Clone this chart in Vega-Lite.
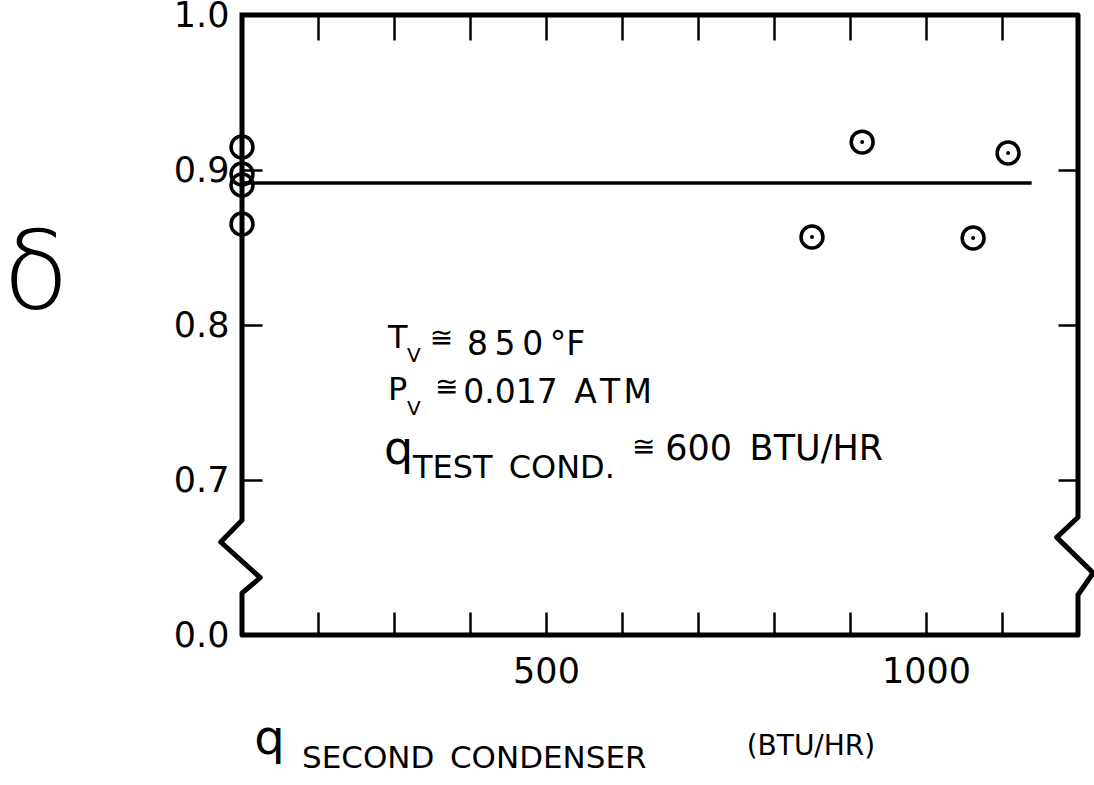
{
  "$schema": "https://vega.github.io/schema/vega-lite/v6.json",
  "width": 836,
  "height": 620,
  "autosize": {"type": "none"},
  "padding": {"left": 242, "top": 15, "right": 16, "bottom": 150},
  "background": "white",
  "config": {
    "view": {"stroke": null},
    "font": "DejaVu Sans",
    "axis": {
      "domain": false,
      "grid": false,
      "tickColor": "black",
      "tickWidth": 2.5,
      "labelColor": "black",
      "labelFont": "DejaVu Sans",
      "labelFontSize": 35,
      "labelFlush": false,
      "labelOverlap": false,
      "labelBound": false,
      "title": null
    }
  },
  "datasets": {
    "frame": [
      {"i": 0, "q": 100, "eff": 1.0},
      {"i": 1, "q": 100, "eff": 0.674},
      {"i": 2, "q": 72, "eff": 0.66},
      {"i": 3, "q": 124, "eff": 0.637},
      {"i": 4, "q": 100, "eff": 0.627},
      {"i": 5, "q": 100, "eff": 0.6},
      {"i": 6, "q": 1200, "eff": 0.6},
      {"i": 7, "q": 1200, "eff": 0.626},
      {"i": 8, "q": 1220, "eff": 0.64},
      {"i": 9, "q": 1172, "eff": 0.663},
      {"i": 10, "q": 1200, "eff": 0.676},
      {"i": 11, "q": 1200, "eff": 1.0},
      {"i": 12, "q": 100, "eff": 1.0}
    ],
    "fit": [
      {"q": 100, "eff": 0.8916},
      {"q": 1139, "eff": 0.8916}
    ],
    "points": [
      {"q": 100, "eff": 0.9148},
      {"q": 100, "eff": 0.8974},
      {"q": 100, "eff": 0.8903},
      {"q": 100, "eff": 0.8652},
      {"q": 850, "eff": 0.8568},
      {"q": 916, "eff": 0.918},
      {"q": 1062, "eff": 0.8561},
      {"q": 1108, "eff": 0.911}
    ]
  },
  "resolve": {"axis": {"x": "independent", "y": "independent"}},
  "layer": [
    {
      "data": {"name": "frame"},
      "mark": {"type": "line", "stroke": "black", "strokeWidth": 5, "strokeJoin": "round", "strokeCap": "square"},
      "encoding": {
        "x": {"field": "q", "type": "quantitative",
          "scale": {"domain": [100, 1200], "nice": false, "zero": false},
          "axis": {"orient": "bottom", "values": [200, 300, 400, 500, 600, 700, 800, 900, 1000, 1100], "format": "d", "tickSize": -23, "labelPadding": 42,
            "labelExpr": "datum.value == 500 || datum.value == 1000 ? datum.label : ''"}},
        "y": {"field": "eff", "type": "quantitative",
          "scale": {"domain": [0.6, 1.0], "nice": false, "zero": false},
          "axis": {"orient": "left", "values": [0.6, 0.7, 0.8, 0.9, 1.0], "tickSize": -20, "labelPadding": 33,
            "labelExpr": "datum.value < 0.65 ? '0.0' : format(datum.value, '.1f')"}},
        "order": {"field": "i", "type": "quantitative"}
      }
    },
    {
      "data": {"name": "fit"},
      "mark": {"type": "line", "stroke": "black", "strokeWidth": 3.5},
      "encoding": {
        "x": {"field": "q", "type": "quantitative", "axis": null},
        "y": {"field": "eff", "type": "quantitative", "axis": null}
      }
    },
    {
      "data": {"name": "points"},
      "mark": {"type": "point", "shape": "circle", "filled": false, "size": 480, "strokeWidth": 3.5, "color": "black", "opacity": 1},
      "encoding": {
        "x": {"field": "q", "type": "quantitative",
          "axis": {"orient": "top", "values": [200, 300, 400, 500, 600, 700, 800, 900, 1000, 1100], "tickSize": -25, "labels": false}},
        "y": {"field": "eff", "type": "quantitative",
          "axis": {"orient": "right", "values": [0.7, 0.8, 0.9], "tickSize": -20, "labels": false}}
      }
    },
    {
      "data": {"name": "points"},
      "mark": {"type": "point", "shape": "circle", "filled": true, "size": 16, "color": "black", "opacity": 1},
      "encoding": {
        "x": {"field": "q", "type": "quantitative", "axis": null},
        "y": {"field": "eff", "type": "quantitative", "axis": null}
      }
    },
    {
      "data": {"values": [{}]},
      "mark": {"type": "text", "text": "T", "fontSize": 32, "align": "left", "baseline": "alphabetic", "color": "black"},
      "encoding": {"x": {"datum": 292, "type": "quantitative", "axis": null}, "y": {"datum": 0.7852, "type": "quantitative", "axis": null}}
    },
    {
      "data": {"values": [{}]},
      "mark": {"type": "text", "text": "V", "fontSize": 20, "align": "left", "baseline": "alphabetic", "color": "black"},
      "encoding": {"x": {"datum": 317, "type": "quantitative", "axis": null}, "y": {"datum": 0.7761, "type": "quantitative", "axis": null}}
    },
    {
      "data": {"values": [{}]},
      "mark": {"type": "text", "text": "\u2245", "fontSize": 28, "align": "left", "baseline": "alphabetic", "color": "black"},
      "encoding": {"x": {"datum": 347, "type": "quantitative", "axis": null}, "y": {"datum": 0.7858, "type": "quantitative", "axis": null}}
    },
    {
      "data": {"values": [{}]},
      "mark": {"type": "text", "text": "8\u20095\u20090\u2009\u00b0F", "fontSize": 33, "align": "left", "baseline": "alphabetic", "color": "black"},
      "encoding": {"x": {"datum": 396, "type": "quantitative", "axis": null}, "y": {"datum": 0.7806, "type": "quantitative", "axis": null}}
    },
    {
      "data": {"values": [{}]},
      "mark": {"type": "text", "text": "P", "fontSize": 32, "align": "left", "baseline": "alphabetic", "color": "black"},
      "encoding": {"x": {"datum": 292, "type": "quantitative", "axis": null}, "y": {"datum": 0.7516, "type": "quantitative", "axis": null}}
    },
    {
      "data": {"values": [{}]},
      "mark": {"type": "text", "text": "V", "fontSize": 20, "align": "left", "baseline": "alphabetic", "color": "black"},
      "encoding": {"x": {"datum": 317, "type": "quantitative", "axis": null}, "y": {"datum": 0.7419, "type": "quantitative", "axis": null}}
    },
    {
      "data": {"values": [{}]},
      "mark": {"type": "text", "text": "\u2245", "fontSize": 28, "align": "left", "baseline": "alphabetic", "color": "black"},
      "encoding": {"x": {"datum": 354, "type": "quantitative", "axis": null}, "y": {"datum": 0.7542, "type": "quantitative", "axis": null}}
    },
    {
      "data": {"values": [{}]},
      "mark": {"type": "text", "text": "0.017\u2002A\u200aT\u200aM", "fontSize": 33, "align": "left", "baseline": "alphabetic", "color": "black"},
      "encoding": {"x": {"datum": 391, "type": "quantitative", "axis": null}, "y": {"datum": 0.7497, "type": "quantitative", "axis": null}}
    },
    {
      "data": {"values": [{}]},
      "mark": {"type": "text", "text": "q", "fontSize": 46, "align": "left", "baseline": "alphabetic", "color": "black"},
      "encoding": {"x": {"datum": 287, "type": "quantitative", "axis": null}, "y": {"datum": 0.7103, "type": "quantitative", "axis": null}}
    },
    {
      "data": {"values": [{}]},
      "mark": {"type": "text", "text": "TEST\u2002COND.", "fontSize": 32, "align": "left", "baseline": "alphabetic", "color": "black"},
      "encoding": {"x": {"datum": 325, "type": "quantitative", "axis": null}, "y": {"datum": 0.7013, "type": "quantitative", "axis": null}}
    },
    {
      "data": {"values": [{}]},
      "mark": {"type": "text", "text": "\u2245", "fontSize": 28, "align": "left", "baseline": "alphabetic", "color": "black"},
      "encoding": {"x": {"datum": 613, "type": "quantitative", "axis": null}, "y": {"datum": 0.7155, "type": "quantitative", "axis": null}}
    },
    {
      "data": {"values": [{}]},
      "mark": {"type": "text", "text": "600\u2002BTU/HR", "fontSize": 35, "align": "left", "baseline": "alphabetic", "color": "black"},
      "encoding": {"x": {"datum": 657, "type": "quantitative", "axis": null}, "y": {"datum": 0.7129, "type": "quantitative", "axis": null}}
    },
    {
      "data": {"values": [{}]},
      "mark": {"type": "text", "text": "q", "fontSize": 48, "align": "left", "baseline": "alphabetic", "color": "black"},
      "encoding": {"x": {"datum": 116, "type": "quantitative", "axis": null}, "y": {"datum": 0.5232, "type": "quantitative", "axis": null}}
    },
    {
      "data": {"values": [{}]},
      "mark": {"type": "text", "text": "SECOND\u2002CONDENSER", "fontSize": 31, "align": "left", "baseline": "alphabetic", "color": "black"},
      "encoding": {"x": {"datum": 179, "type": "quantitative", "axis": null}, "y": {"datum": 0.5142, "type": "quantitative", "axis": null}}
    },
    {
      "data": {"values": [{}]},
      "mark": {"type": "text", "text": "(BTU/HR)", "fontSize": 28, "align": "left", "baseline": "alphabetic", "color": "black"},
      "encoding": {"x": {"datum": 764, "type": "quantitative", "axis": null}, "y": {"datum": 0.5226, "type": "quantitative", "axis": null}}
    },
    {
      "data": {"values": [{}]},
      "mark": {"type": "text", "text": "\u03b4", "fontSize": 108, "fontWeight": 200, "align": "center", "baseline": "alphabetic", "color": "black"},
      "encoding": {"x": {"datum": -171, "type": "quantitative", "axis": null}, "y": {"datum": 0.811, "type": "quantitative", "axis": null}}
    }
  ]
}
